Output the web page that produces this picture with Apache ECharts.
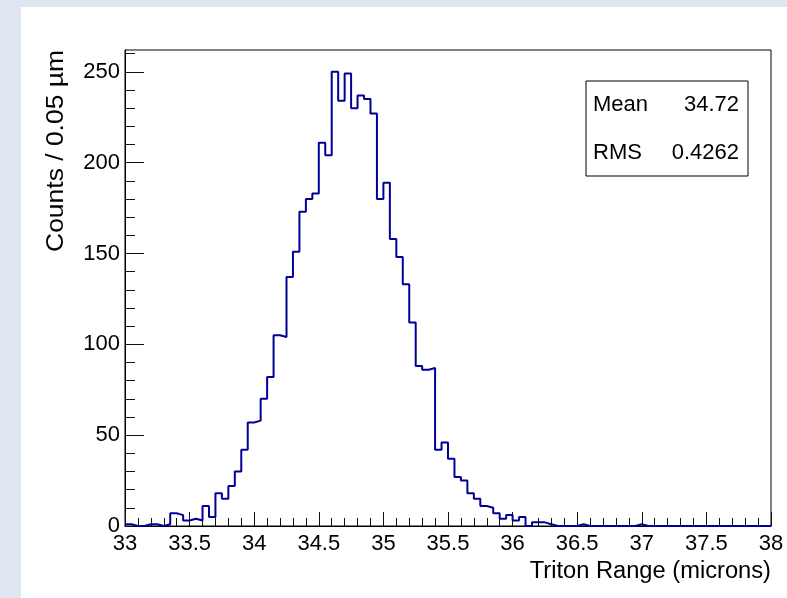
<!DOCTYPE html>
<html>
<head>
<meta charset="utf-8">
<script src="https://cdn.jsdelivr.net/npm/echarts@6/dist/echarts.min.js"></script>
<style>
  html, body { margin: 0; padding: 0; background: #dfe6f1; }
  #chart { width: 787px; height: 598px; }
</style>
</head>
<body>
<div id="chart"></div>
<script>
// Histogram binning (microns)
const binLow = 33;
const binHigh = 38;
const binWidth = 0.05;

// Counts per 0.05 µm bin, 33.00 → 38.00
const counts = [
  1, 0, 0, 1, 1, 0, 1, 7, 6, 3,
  4, 3, 11, 5, 18, 15, 22, 30, 42, 57,
  58, 70, 82, 105, 104, 137, 151, 173, 180, 183,
  211, 204, 250, 234, 249, 230, 237, 235, 227, 180,
  189, 158, 148, 133, 112, 88, 86, 87, 42, 46,
  37, 27, 25, 18, 15, 11, 10, 7, 4, 6,
  3, 5, 0, 2, 2, 1, 0, 0, 0, 0,
  1, 0, 0, 0, 0, 0, 0, 0, 0, 1,
  0, 0, 0, 0, 0, 0, 0, 0, 0, 0,
  0, 0, 0, 0, 0, 0, 0, 0, 0, 0
];

// Axis ticks
const xTickStep = 0.5;
const yTickValues = [0, 50, 100, 150, 200, 250];
const yMax = 262;

// Statistics box entries
const statNames = ['Mean', 'RMS'];
const statValues = ['34.72', '0.4262'];

const xTitle = 'Triton Range (microns)';
const yTitle = 'Counts / 0.05 \u00b5m';

// Step outline: one point at each bin's lower edge, closed at the upper edge
const outline = counts.map((c, i) => [+(binLow + i * binWidth).toFixed(2), c]);
outline.push([binHigh, counts[counts.length - 1]]);

const FONT = '"Liberation Sans", Arial, Helvetica, sans-serif';
const INK = '#000';
const TICK = '#111';

const chart = echarts.init(document.getElementById('chart'), null, { renderer: 'canvas' });

const statGraphics = [];
statNames.forEach((name, k) => {
  const cy = 105 + k * 47.5;
  statGraphics.push({
    type: 'text', x: 593, y: cy, z: 12,
    style: { text: name, font: '22px ' + FONT, fill: INK, align: 'left', verticalAlign: 'middle' }
  });
  statGraphics.push({
    type: 'text', x: 739, y: cy, z: 12,
    style: { text: statValues[k], font: '22px ' + FONT, fill: INK, align: 'right', verticalAlign: 'middle' }
  });
});

chart.setOption({
  animation: false,
  backgroundColor: '#dfe6f1',
  grid: {
    left: 125, right: 16, top: 50, bottom: 72,
    show: true, borderColor: INK, borderWidth: 1
  },
  xAxis: {
    type: 'value',
    min: binLow, max: binHigh, interval: xTickStep,
    axisLine: { show: true, onZero: false, lineStyle: { color: INK, width: 1 } },
    axisTick: { show: true, inside: true, length: 14, lineStyle: { color: TICK } },
    minorTick: { show: true, splitNumber: 5, length: 8, lineStyle: { color: TICK } },
    splitLine: { show: false },
    axisLabel: {
      color: INK, fontSize: 22, fontFamily: FONT, margin: 7,
      showMinLabel: true, showMaxLabel: true,
      formatter: v => String(+v.toFixed(1))
    }
  },
  yAxis: {
    type: 'value',
    min: 0, max: yMax, interval: 50,
    axisLine: { show: true, lineStyle: { color: INK, width: 1 } },
    axisTick: { show: true, inside: true, length: 19, lineStyle: { color: TICK }, customValues: yTickValues },
    minorTick: { show: true, splitNumber: 5, length: 10, lineStyle: { color: TICK } },
    splitLine: { show: false },
    axisLabel: {
      color: INK, fontSize: 22, fontFamily: FONT, margin: 5,
      customValues: yTickValues
    }
  },
  graphic: [
    // white canvas pad
    { type: 'rect', x: 21, y: 7, z: -10, shape: { width: 787 - 21, height: 598 - 7 }, style: { fill: '#fff' }, silent: true },
    // statistics box
    { type: 'rect', x: 586, y: 81, z: 11, shape: { width: 162, height: 95 }, style: { fill: '#fff', stroke: INK, lineWidth: 1 } },
    ...statGraphics,
    // axis titles
    { type: 'text', x: 771, y: 572, z: 12, scaleX: 1.03,
      style: { text: xTitle, font: '23px ' + FONT, fill: INK, align: 'right', verticalAlign: 'middle' } },
    { type: 'text', x: 57, y: 50, rotation: Math.PI / 2, scaleX: 1.15, z: 12,
      style: { text: yTitle, font: '23px ' + FONT, fill: INK, align: 'right', verticalAlign: 'middle' } }
  ],
  series: [{
    type: 'line',
    step: 'end',
    data: outline,
    symbol: 'none',
    clip: true,
    lineStyle: { color: '#000099', width: 2 },
    z: 5
  }]
});
</script>
</body>
</html>
